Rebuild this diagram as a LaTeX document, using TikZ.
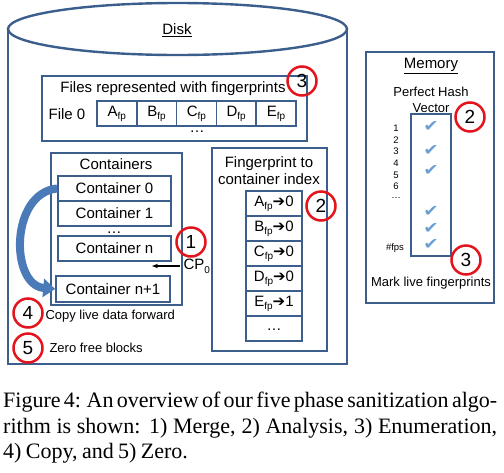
\documentclass[tikz,border=0pt]{standalone}
\usepackage{fontspec}
\setmainfont{Liberation Serif}
\setsansfont{Liberation Sans}
\newfontfamily\dejavu{DejaVu Sans}
\usetikzlibrary{arrows.meta}
\definecolor{boxblue}{HTML}{3B5E8C}
\definecolor{arrowblue}{HTML}{4A7AB8}
\definecolor{checkblue}{HTML}{6A9FD2}
\definecolor{phasered}{HTML}{E3141C}
\newcommand{\fpsub}{\raisebox{-3pt}{\fontsize{10}{10}\selectfont fp}}
\tikzset{
  txt/.style={font=\sffamily\fontsize{15}{17}\selectfont},
  small/.style={font=\sffamily\fontsize{13}{16.5}\selectfont},
  tiny/.style={font=\sffamily\fontsize{9.5}{10}\selectfont},
  dots/.style={txt, inner sep=0pt},
  box/.style={draw=boxblue, line width=1.6pt},
  cell/.style={box, txt, minimum height=25pt, inner sep=0pt},
  phase/.style={circle, draw=phasered, line width=2.5pt, minimum size=29pt, inner sep=0pt, font=\sffamily\fontsize{19}{19}\selectfont},
  tick/.style={text=checkblue, inner sep=0pt, xscale=1.15, font=\dejavu\fontsize{16}{16}\selectfont}
}

\begin{document}
\begin{tikzpicture}[x=1pt, y=-1pt]
\useasboundingbox (0,0) rectangle (504,472);
\draw[boxblue, line width=2.4pt] (8,29) -- (8,364) -- (347,364) -- (347,29);
\draw[boxblue, line width=2.4pt] (177.5,29) ellipse [x radius=169.5, y radius=26];
\node[txt] (disk) at (177,30) {\underline{Disk}};

\draw[box] (42,76) rectangle (307,141);
\node[txt] (filestitle) at (173,89) {Files represented with fingerprints};
\node[phase] (p3a) at (302,81) {3};
\node[txt] (file0) at (67,114) {File 0};
\foreach \l [count=\i] in {A,B,C,D,E}
  \node[cell, minimum width=39.8pt] (f\l) at (77+39.8*\i,113.5) {\l\fpsub};
\node[dots] (fdots) at (197,132) {…};

\draw[box] (51,153) rectangle (182,305);
\node[txt] (conttitle) at (116,164) {Containers};
\node[cell, minimum width=113pt] (c0) at (114.5,188.5) {Container 0};
\node[cell, minimum width=113pt] (c1) at (114.5,213.5) {Container 1};
\node[dots] (cdots) at (114,233) {…};
\node[cell, minimum width=113pt] (cn) at (114.5,248.5) {Container n};
\node[cell, minimum width=114pt, minimum height=26pt] (cn1) at (113,289) {Container n+1};
\node[phase] (p1) at (191,242) {1};
\node[txt, anchor=west] (cp) at (180,266) {CP\raisebox{-4pt}{\fontsize{10}{10}\selectfont 0}};
\coordinate (cpend) at (152,266);
\draw[line width=1.2pt, -{Stealth[length=6pt]}] (cp.west) -- (cpend);
\draw[arrowblue, line width=8pt, -{Triangle[length=12pt, width=18pt]}] (c0.west) .. controls (10,193) and (10,285) .. (cn1.west);
\node[phase] (p4) at (28,313) {4};
\node[small, anchor=west] (copy) at (42,316) {Copy live data forward};
\node[phase] (p5) at (28,348) {5};
\node[small, anchor=west] (zero) at (46,348) {Zero free blocks};

\draw[box] (212,148) rectangle (327,351);
\node[txt, align=center] (idxtitle) at (269,171) {Fingerprint to\\container index};
\foreach \l/\c [count=\i] in {A/0,B/0,C/0,D/0,E/1}
  \node[cell, minimum width=56pt] (i\l) at (274,178.5+25*\i) {\l\fpsub{\dejavu\fontsize{15}{15}\selectfont ➔}\c};
\node[cell, minimum width=56pt] (idots) at (274,328.5) {\raisebox{-4pt}{…}};
\node[phase] (p2a) at (321,206) {2};

\draw[box] (366,52) rectangle (494,303);
\node[txt] (mem) at (431,66) {\underline{Memory}};
\node[small, align=center] (phv) at (431,100) {Perfect Hash\\Vector};
\draw[box] (411,114) rectangle (451,256);
\foreach \n [count=\i] in {1,...,6}
  \node[tiny] (v\n) at (396,116.3+11.7*\i) {\n};
\node[tiny] (vdots) at (396,198) {…};
\node[tiny] (vfps) at (395,248) {\#fps};
\foreach \y [count=\i] in {126,150,170,211,228,244}
  \node[tick] (t\i) at (431,\y) {✔};
\node[phase] (p2b) at (470,117) {2};
\node[phase] (p3b) at (466,260) {3};
\node[small] (mark) at (431,283) {Mark live fingerprints};

\node[anchor=north west, text width=494pt, align=justify, inner sep=0pt, font=\fontsize{22}{25.5}\selectfont] (caption) at (3,392) {\spaceskip=0.2em plus 1em minus 0.08em\relax Figure 4: An overview of our five phase sanitization algo-\linebreak rithm is shown: 1) Merge, 2) Analysis, 3) Enumeration,\linebreak 4) Copy, and 5) Zero.};
\end{tikzpicture}
\end{document}
